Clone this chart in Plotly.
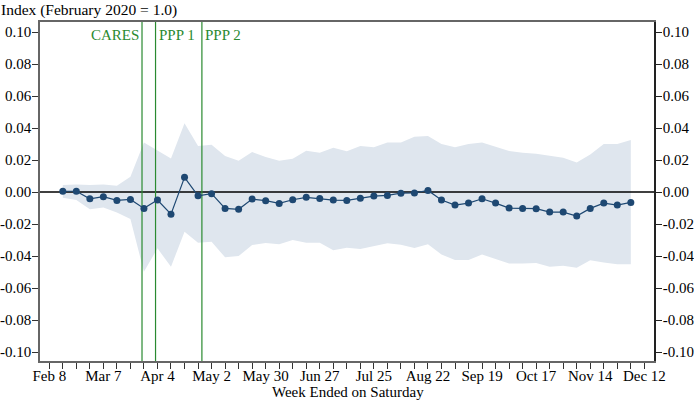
import datetime as dt
import plotly.graph_objects as go

# ---- data ----
start = dt.date(2020, 2, 15)
weeks = [(start + dt.timedelta(days=7 * i)).isoformat() for i in range(43)]

index_values = [
    0.0005, 0.0005, -0.0042, -0.0029, -0.0052, -0.0046, -0.0102, -0.0050,
    -0.0138, 0.0092, -0.0023, -0.0010, -0.0102, -0.0108, -0.0044, -0.0054,
    -0.0071, -0.0048, -0.0033, -0.0040, -0.0050, -0.0052, -0.0038, -0.0025,
    -0.0021, -0.0007, -0.0006, 0.0010, -0.0050, -0.0081, -0.0069, -0.0042,
    -0.0069, -0.0100, -0.0102, -0.0104, -0.0125, -0.0125, -0.0150, -0.0102,
    -0.0069, -0.0081, -0.0065,
]
upper_ci = [
    0.0044, 0.0048, 0.0044, 0.0048, 0.0040, 0.0096, 0.0310, 0.0260,
    0.0210, 0.0430, 0.0288, 0.0296, 0.0225, 0.0196, 0.0250, 0.0219,
    0.0196, 0.0208, 0.0258, 0.0246, 0.0277, 0.0255, 0.0288, 0.0280,
    0.0310, 0.0310, 0.0346, 0.0350, 0.0300, 0.0280, 0.0300, 0.0310,
    0.0283, 0.0256, 0.0246, 0.0240, 0.0227, 0.0215, 0.0185, 0.0235,
    0.0300, 0.0300, 0.0325,
]
lower_ci = [
    -0.0035, -0.0050, -0.0108, -0.0096, -0.0127, -0.0169, -0.0498, -0.0352,
    -0.0467, -0.0248, -0.0317, -0.0310, -0.0408, -0.0400, -0.0331, -0.0319,
    -0.0327, -0.0300, -0.0317, -0.0317, -0.0363, -0.0348, -0.0356, -0.0338,
    -0.0320, -0.0330, -0.0350, -0.0327, -0.0390, -0.0425, -0.0425, -0.0390,
    -0.0420, -0.0446, -0.0446, -0.0444, -0.0467, -0.0460, -0.0473, -0.0427,
    -0.0440, -0.0452, -0.0452,
]

event_labels = ["CARES", "PPP 1", "PPP 2"]
event_dates = ["2020-03-27", "2020-04-03", "2020-04-27"]
event_anchor = ["right", "left", "left"]

tick_start = dt.date(2020, 2, 8)
tick_dates = [(tick_start + dt.timedelta(days=7 * i)).isoformat() for i in range(45)]
tick_labels_major = ["Feb 8", "Mar 7", "Apr 4", "May 2", "May 30", "Jun 27",
                     "Jul 25", "Aug 22", "Sep 19", "Oct 17", "Nov 14", "Dec 12"]
tick_text = [tick_labels_major[i // 4] if i % 4 == 0 else "" for i in range(45)]

y_ticks = [0.10, 0.08, 0.06, 0.04, 0.02, 0.0, -0.02, -0.04, -0.06, -0.08, -0.10]
y_tick_text = [("%.2f" % v).replace("-0.00", "0.00") for v in y_ticks]

# ---- style ----
FONT = "Liberation Serif"
NAVY = "#1e4872"
BAND = "#dfe6ee"
GREEN = "#2a8a30"
Y_RANGE = [-0.1056, 0.1063]
X_RANGE = ["2020-02-03 04:48", "2020-12-17 00:00"]

fig = go.Figure()

fig.add_trace(go.Scatter(x=weeks, y=lower_ci, mode="lines", line=dict(width=0),
                         hoverinfo="skip", showlegend=False))
fig.add_trace(go.Scatter(x=weeks, y=upper_ci, mode="lines", line=dict(width=0),
                         fill="tonexty", fillcolor=BAND, hoverinfo="skip",
                         showlegend=False))
# zero reference line
fig.add_trace(go.Scatter(x=X_RANGE, y=[0, 0], mode="lines",
                         line=dict(color="black", width=1.4),
                         hoverinfo="skip", showlegend=False))
# event lines
for d in event_dates:
    fig.add_trace(go.Scatter(x=[d, d], y=Y_RANGE, mode="lines",
                             line=dict(color=GREEN, width=1.2),
                             hoverinfo="skip", showlegend=False))
fig.add_trace(go.Scatter(x=weeks, y=index_values, mode="lines+markers",
                         line=dict(color=NAVY, width=1.2),
                         marker=dict(color=NAVY, size=7),
                         showlegend=False))
# invisible trace on right axis so it renders
fig.add_trace(go.Scatter(x=[weeks[0]], y=[0], yaxis="y2", mode="markers",
                         marker=dict(opacity=0), hoverinfo="skip",
                         showlegend=False))

for lab, d, anc in zip(event_labels, event_dates, event_anchor):
    fig.add_annotation(x=d, xref="x", y=(361 - 35) / 339, yref="paper",
                       text=lab, showarrow=False, xanchor=anc, yanchor="middle",
                       xshift=-1 if anc == "right" else 1,
                       font=dict(family=FONT, size=15, color=GREEN))

fig.add_annotation(x=-40 / 614, xref="paper", y=(361 - 10) / 339, yref="paper",
                   text="Index (February 2020 = 1.0)", showarrow=False,
                   xanchor="left", yanchor="middle", xshift=-1,
                   font=dict(family=FONT, size=15.5, color="black"))
fig.add_annotation(x=(348 - 40) / 614, xref="paper", y=(361 - 392) / 339,
                   yref="paper", text="Week Ended on Saturday",
                   showarrow=False, xanchor="center", yanchor="middle",
                   font=dict(family=FONT, size=15, color="black"))

axis_font = dict(family=FONT, size=15, color="black")
fig.update_layout(
    width=694, height=400,
    margin=dict(l=40, r=40, t=22, b=39, autoexpand=False),
    paper_bgcolor="white", plot_bgcolor="white",
    showlegend=False,
    font=dict(family=FONT, size=15, color="black"),
    xaxis=dict(type="date", range=X_RANGE, tickmode="array",
               tickvals=tick_dates, ticktext=tick_text, automargin=False,
               ticks="outside", ticklen=6, tickwidth=1, tickcolor="#333",
               ticklabelstandoff=-6,
               showgrid=False, zeroline=False, showline=True,
               linecolor="#666", linewidth=1.5, mirror=True,
               tickfont=axis_font),
    yaxis=dict(range=Y_RANGE, tickmode="array", tickvals=y_ticks,
               ticktext=y_tick_text, ticks="outside", ticklen=6,
               automargin=False, ticklabelstandoff=-2,
               tickcolor="#333", showgrid=False, zeroline=False,
               showline=True, linecolor="#666", linewidth=1.5,
               tickfont=axis_font),
    yaxis2=dict(range=Y_RANGE, overlaying="y", side="right", anchor="x",
                tickmode="array", tickvals=y_ticks, ticktext=y_tick_text,
                automargin=False, ticklabelstandoff=-2,
                ticks="outside", ticklen=6, tickcolor="#222",
                showgrid=False, zeroline=False, showline=True,
                linecolor="#222", linewidth=1.5, tickfont=axis_font),
)

fig.write_html("out.html", config={"displayModeBar": False},
               post_script="document.body.style.margin='0';")
